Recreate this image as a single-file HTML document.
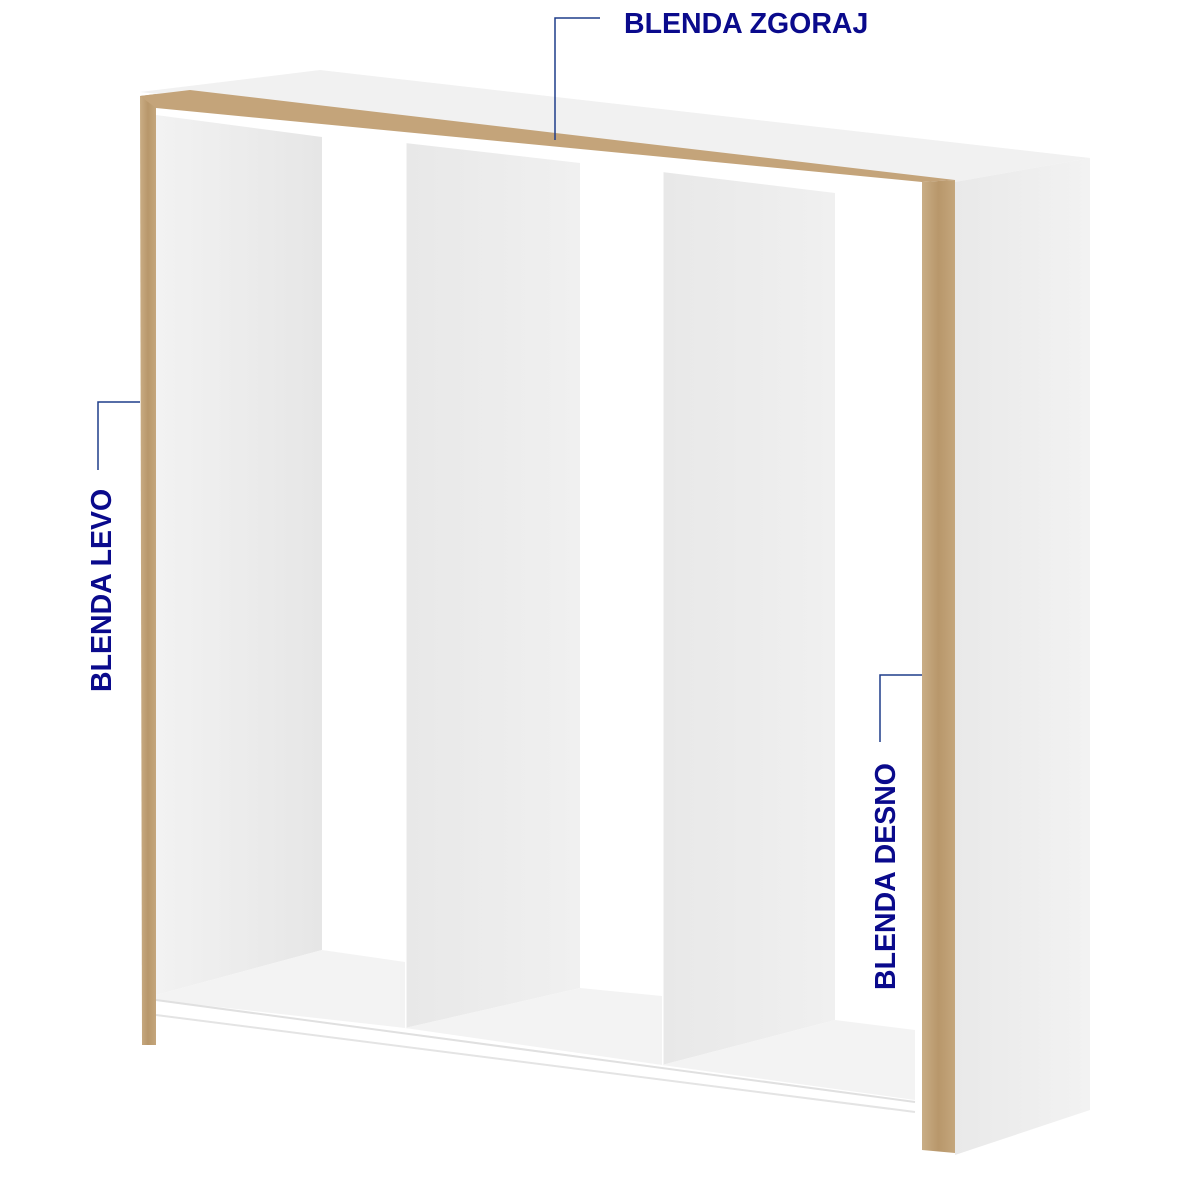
<!DOCTYPE html>
<html><head><meta charset="utf-8"><style>
html,body{margin:0;padding:0;background:#fff;width:1200px;height:1200px;overflow:hidden}
svg{display:block}
text{font-family:"Liberation Sans",sans-serif;font-weight:bold;fill:#0a0a8c;font-size:28.5px}
</style></head><body>
<svg width="1200" height="1200" viewBox="0 0 1200 1200">
<defs>
<linearGradient id="g1" x1="0" x2="1" y1="0" y2="0"><stop offset="0" stop-color="#f2f2f2"/><stop offset="1" stop-color="#e6e6e6"/></linearGradient>
<linearGradient id="g2" x1="0" x2="1"><stop offset="0" stop-color="#e8e8e8"/><stop offset="1" stop-color="#f0f0f0"/></linearGradient>
<linearGradient id="side" x1="0" x2="1"><stop offset="0" stop-color="#e9e9e9"/><stop offset="1" stop-color="#f2f2f2"/></linearGradient>
<linearGradient id="wood" x1="0" x2="1"><stop offset="0" stop-color="#c9ad85"/><stop offset="0.5" stop-color="#b8976b"/><stop offset="1" stop-color="#c4a67c"/></linearGradient>
</defs>
<polygon points="140,92 320,70 1090,158 955,182" fill="#f1f1f1"/>
<polygon points="955,182 1090,158 1090,1110 955,1155" fill="url(#side)"/>
<polygon points="156,115 322,137 322,950 156,995" fill="url(#g1)"/>
<polygon points="405,143 580,163 580,988 405,1028" fill="url(#g2)"/>
<line x1="405" y1="143" x2="405" y2="1028" stroke="#fff" stroke-width="3"/>
<polygon points="662,172 835,193 835,1020 662,1065" fill="url(#g2)"/>
<line x1="662" y1="172" x2="662" y2="1065" stroke="#fff" stroke-width="3"/>
<polygon points="156,995 322,950 405,962 405,1028 156,1000" fill="#f3f3f3"/>
<polygon points="405,1028 580,988 662,996 662,1065" fill="#f3f3f3"/>
<polygon points="662,1065 835,1020 915,1030 915,1100" fill="#f3f3f3"/>
<line x1="156" y1="1000" x2="915" y2="1102" stroke="#e0e0e0" stroke-width="2"/>
<line x1="156" y1="1015" x2="915" y2="1112" stroke="#e4e4e4" stroke-width="2"/>
<polygon points="140,96 156,94 156,1045 142,1045" fill="url(#wood)"/>
<polygon points="140,96 190,90 955,180 922,182 156,108" fill="#c4a47a"/>
<polygon points="922,182 955,180 955,1153 922,1150" fill="url(#wood)"/>
<g stroke="#1f3d8a" stroke-width="1.5" fill="none">
<polyline points="600,18 555,18 555,140"/>
<polyline points="98,470 98,402 140,402"/>
<polyline points="880,742 880,675 922,675"/>
</g>
<text x="624" y="33">BLENDA ZGORAJ</text>
<text transform="translate(111,692) rotate(-90)">BLENDA LEVO</text>
<text transform="translate(895,990) rotate(-90)">BLENDA DESNO</text>
</svg>
</body></html>
